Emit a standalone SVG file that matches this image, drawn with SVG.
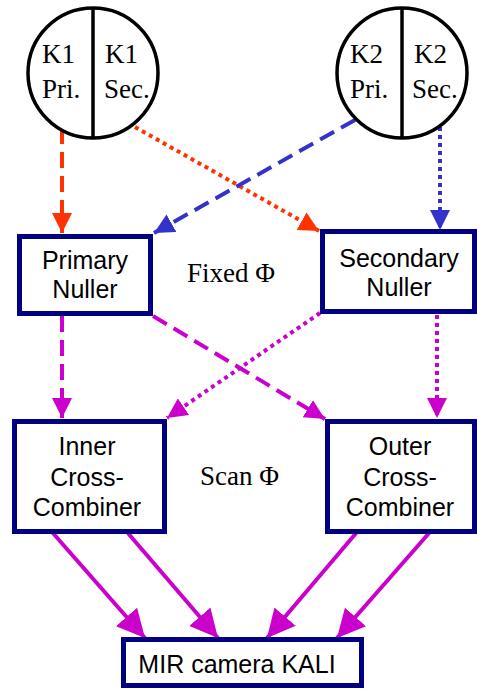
<svg xmlns="http://www.w3.org/2000/svg" width="477" height="690" viewBox="0 0 477 690">
<style>
.box{fill:#fff;stroke:#000080;stroke-width:5}
.circ{fill:#fff;stroke:#000;stroke-width:3.5}
.tt{font-family:"Liberation Serif",serif;font-size:27px;fill:#000}
.ts{font-family:"Liberation Sans",sans-serif;font-size:25px;fill:#000;text-anchor:middle}
.red{stroke:#FF3300;fill:none;stroke-width:4}
.blue{stroke:#3333CC;fill:none;stroke-width:4}
.mag{stroke:#CC00CC;fill:none;stroke-width:4}
.dash{stroke-dasharray:16 8}
.dot{stroke-dasharray:4 4}
</style>
<defs>
<marker id="ar" markerWidth="5" markerHeight="5" refX="5" refY="2.5" orient="auto" markerUnits="strokeWidth"><path d="M0,0 L5,2.5 L0,5 Z" fill="#FF3300"/></marker>
<marker id="ab" markerWidth="5" markerHeight="5" refX="5" refY="2.5" orient="auto" markerUnits="strokeWidth"><path d="M0,0 L5,2.5 L0,5 Z" fill="#3333CC"/></marker>
<marker id="am" markerWidth="5" markerHeight="5" refX="5" refY="2.5" orient="auto" markerUnits="strokeWidth"><path d="M0,0 L5,2.5 L0,5 Z" fill="#CC00CC"/></marker>
<marker id="am2" markerWidth="7" markerHeight="7" refX="7" refY="3.5" orient="auto" markerUnits="strokeWidth"><path d="M0,0 L7,3.5 L0,7 Z" fill="#CC00CC"/></marker>
</defs>
<g id="connectors">
<line class="red dash" x1="62" y1="128" x2="62" y2="233" marker-end="url(#ar)"/>
<line class="red dot" x1="135" y1="127" x2="319" y2="231" marker-end="url(#ar)"/>
<line class="blue dash" x1="355" y1="120" x2="154" y2="233" marker-end="url(#ab)"/>
<line class="blue dot" x1="440" y1="127" x2="440" y2="230" marker-end="url(#ab)"/>
<line class="mag dash" x1="62" y1="316" x2="62" y2="418" marker-end="url(#am)"/>
<line class="mag dash" x1="153" y1="316" x2="325" y2="419" marker-end="url(#am)"/>
<line class="mag dot" x1="320" y1="313" x2="167" y2="418" marker-end="url(#am)"/>
<line class="mag dot" x1="437" y1="315" x2="437" y2="418" marker-end="url(#am)"/>
<line class="mag" stroke-width="3" x1="52" y1="532" x2="145" y2="638" marker-end="url(#am2)"/>
<line class="mag" stroke-width="3" x1="127" y1="532" x2="218" y2="638" marker-end="url(#am2)"/>
<line class="mag" stroke-width="3" x1="357" y1="532" x2="267" y2="638" marker-end="url(#am2)"/>
<line class="mag" stroke-width="3" x1="430" y1="532" x2="337" y2="638" marker-end="url(#am2)"/>
</g>
<g id="K1">
<circle class="circ" cx="93" cy="73" r="65"/>
<line x1="93" y1="8" x2="93" y2="138" stroke="#000" stroke-width="3.5"/>
<text class="tt" x="42" y="63">K1</text>
<text class="tt" x="42" y="98">Pri.</text>
<text class="tt" x="105" y="63">K1</text>
<text class="tt" x="104" y="98">Sec.</text>
</g>
<g id="K2">
<circle class="circ" cx="402" cy="73" r="65"/>
<line x1="402" y1="8" x2="402" y2="138" stroke="#000" stroke-width="3.5"/>
<text class="tt" x="350" y="63">K2</text>
<text class="tt" x="350" y="98">Pri.</text>
<text class="tt" x="414" y="63">K2</text>
<text class="tt" x="412" y="98">Sec.</text>
</g>
<g id="primary">
<rect class="box" x="19.5" y="236.5" width="131" height="77"/>
<text class="ts" x="85" y="269">Primary</text>
<text class="ts" x="85" y="298">Nuller</text>
</g>
<g id="secondary">
<rect class="box" x="322.5" y="231.5" width="152" height="80"/>
<text class="ts" x="399" y="267">Secondary</text>
<text class="ts" x="399" y="296">Nuller</text>
</g>
<text class="tt" x="187" y="282">Fixed Φ</text>
<g id="inner">
<rect class="box" x="14.5" y="421.5" width="150" height="110"/>
<text class="ts" x="87" y="455">Inner</text>
<text class="ts" x="87" y="486">Cross-</text>
<text class="ts" x="87" y="516">Combiner</text>
</g>
<g id="outer">
<rect class="box" x="327.5" y="421.5" width="147" height="110"/>
<text class="ts" x="400" y="455">Outer</text>
<text class="ts" x="400" y="486">Cross-</text>
<text class="ts" x="400" y="516">Combiner</text>
</g>
<text class="tt" x="200" y="485">Scan Φ</text>
<g id="kali">
<rect class="box" x="123.5" y="639.5" width="238" height="46"/>
<text class="ts" x="237" y="673">MIR camera KALI</text>
</g>
</svg>
